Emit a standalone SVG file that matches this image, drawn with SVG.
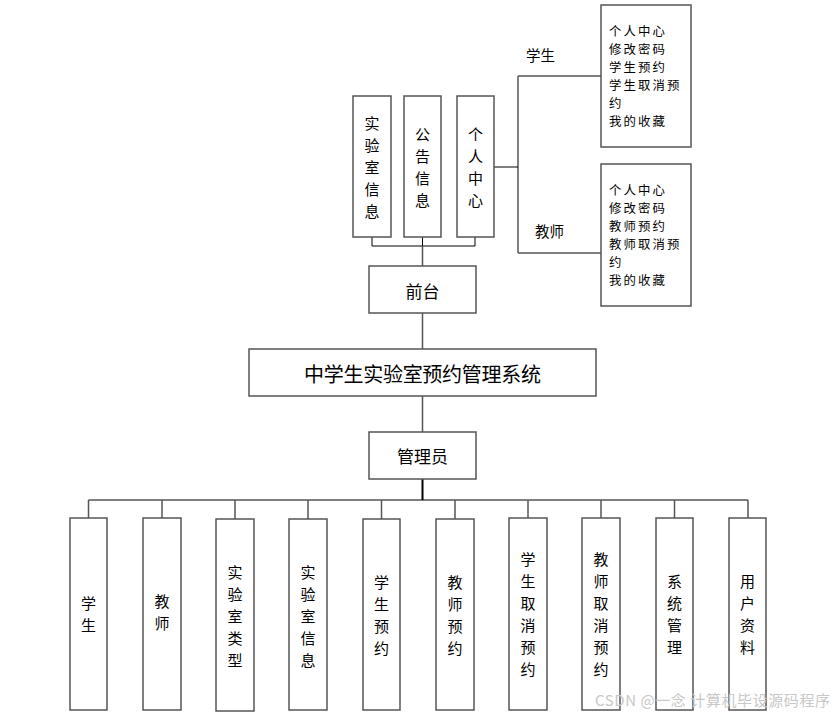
<svg xmlns="http://www.w3.org/2000/svg" width="840" height="716" viewBox="0 0 840 716">
<style>
.box{fill:#fff;stroke:#555;stroke-width:1.5}
.ln{stroke:#000;stroke-width:1;fill:none}
.lg{stroke:#555;stroke-width:1.5;fill:none}
.t{font-family:"Noto Sans CJK SC",sans-serif;font-size:17px;fill:#000;text-anchor:middle;dominant-baseline:central}
.c{font-family:"Noto Sans CJK SC",sans-serif;font-size:15px;fill:#000;text-anchor:middle;dominant-baseline:central}
.s{font-family:"Noto Sans CJK SC",sans-serif;font-size:14.5px;fill:#000}
.m{font-family:"Noto Sans CJK SC",sans-serif;font-size:12.4px;letter-spacing:2.1px;fill:#000}
.wm{font-family:"Noto Sans CJK SC",sans-serif;font-size:15px;fill:#c8c8c8}
</style>
<rect width="840" height="716" fill="#fff"/>
<g id="connectors">
<polyline class="ln" points="372,237 372,246 475,246 475,237"/>
<line class="ln" x1="422.5" y1="237" x2="422.5" y2="246"/>
<line class="lg" x1="422.5" y1="246" x2="422.5" y2="266"/>
<line class="lg" x1="494" y1="167" x2="518" y2="167"/>
<line class="ln" x1="518" y1="76" x2="518" y2="253"/>
<line class="lg" x1="518" y1="76" x2="601" y2="76"/>
<line class="lg" x1="518" y1="253" x2="601" y2="253"/>
<line class="lg" x1="422.5" y1="313" x2="422.5" y2="349"/>
<line class="lg" x1="422.5" y1="396" x2="422.5" y2="432"/>
<line stroke="#000" stroke-width="2" x1="422.5" y1="479" x2="422.5" y2="500"/>
<line class="ln" x1="88.5" y1="500" x2="748" y2="500"/>
<g class="lg">
<line x1="88.5" y1="500" x2="88.5" y2="518"/>
<line x1="162" y1="500" x2="162" y2="518"/>
<line x1="235" y1="500" x2="235" y2="519"/>
<line x1="308" y1="500" x2="308" y2="519"/>
<line x1="381.5" y1="500" x2="381.5" y2="519"/>
<line x1="455" y1="500" x2="455" y2="519"/>
<line x1="528" y1="500" x2="528" y2="518"/>
<line x1="601" y1="500" x2="601" y2="518"/>
<line x1="674.5" y1="500" x2="674.5" y2="518"/>
<line x1="748" y1="500" x2="748" y2="518"/>
</g>
</g>
<g id="lab-info-top"><rect class="box" x="353" y="96" width="38" height="141"/><text class="c"><tspan x="372" y="122">实</tspan><tspan x="372" y="144">验</tspan><tspan x="372" y="166">室</tspan><tspan x="372" y="188">信</tspan><tspan x="372" y="210">息</tspan></text></g>
<g id="notice"><rect class="box" x="404" y="96" width="37" height="141"/><text class="c"><tspan x="422.5" y="133">公</tspan><tspan x="422.5" y="155">告</tspan><tspan x="422.5" y="177">信</tspan><tspan x="422.5" y="199">息</tspan></text></g>
<g id="personal"><rect class="box" x="457" y="96" width="37" height="141"/><text class="c"><tspan x="475.5" y="133">个</tspan><tspan x="475.5" y="155">人</tspan><tspan x="475.5" y="177">中</tspan><tspan x="475.5" y="199">心</tspan></text></g>
<g id="student-label"><text class="s" x="526" y="61">学生</text></g>
<g id="teacher-label"><text class="s" x="535" y="237">教师</text></g>
<g id="student-menu"><rect class="box" x="601" y="5" width="90" height="142"/><text class="m"><tspan x="609" y="36">个人中心</tspan><tspan x="609" y="54">修改密码</tspan><tspan x="609" y="72">学生预约</tspan><tspan x="609" y="90">学生取消预</tspan><tspan x="609" y="108">约</tspan><tspan x="609" y="126">我的收藏</tspan></text></g>
<g id="teacher-menu"><rect class="box" x="601" y="164" width="90" height="142"/><text class="m"><tspan x="609" y="195">个人中心</tspan><tspan x="609" y="213">修改密码</tspan><tspan x="609" y="231">教师预约</tspan><tspan x="609" y="249">教师取消预</tspan><tspan x="609" y="267">约</tspan><tspan x="609" y="285">我的收藏</tspan></text></g>
<g id="frontend"><rect class="box" x="369" y="266" width="107" height="47"/><text class="t" x="422.5" y="290">前台</text></g>
<g id="system"><rect class="box" x="249" y="349" width="347" height="47"/><text class="t" x="422.5" y="373" style="font-size:20px" textLength="237">中学生实验室预约管理系统</text></g>
<g id="admin"><rect class="box" x="369" y="432" width="107" height="47"/><text class="t" x="422.5" y="455">管理员</text></g>
<g id="b-student"><rect class="box" x="70" y="518" width="37" height="192"/><text class="c"><tspan x="88.5" y="602">学</tspan><tspan x="88.5" y="624">生</tspan></text></g>
<g id="b-teacher"><rect class="box" x="143" y="518" width="38" height="192"/><text class="c"><tspan x="162" y="600">教</tspan><tspan x="162" y="622">师</tspan></text></g>
<g id="b-labtype"><rect class="box" x="216" y="519" width="38" height="192"/><text class="c"><tspan x="235" y="571">实</tspan><tspan x="235" y="593">验</tspan><tspan x="235" y="615">室</tspan><tspan x="235" y="637">类</tspan><tspan x="235" y="659">型</tspan></text></g>
<g id="b-labinfo"><rect class="box" x="289" y="519" width="38" height="191"/><text class="c"><tspan x="308" y="571">实</tspan><tspan x="308" y="593">验</tspan><tspan x="308" y="615">室</tspan><tspan x="308" y="637">信</tspan><tspan x="308" y="659">息</tspan></text></g>
<g id="b-stuappt"><rect class="box" x="363" y="519" width="37" height="191"/><text class="c"><tspan x="381.5" y="581">学</tspan><tspan x="381.5" y="603">生</tspan><tspan x="381.5" y="625">预</tspan><tspan x="381.5" y="647">约</tspan></text></g>
<g id="b-teaappt"><rect class="box" x="436" y="519" width="38" height="191"/><text class="c"><tspan x="455" y="581">教</tspan><tspan x="455" y="603">师</tspan><tspan x="455" y="625">预</tspan><tspan x="455" y="647">约</tspan></text></g>
<g id="b-stucancel"><rect class="box" x="509" y="518" width="38" height="192"/><text class="c"><tspan x="528" y="558">学</tspan><tspan x="528" y="580">生</tspan><tspan x="528" y="602">取</tspan><tspan x="528" y="624">消</tspan><tspan x="528" y="646">预</tspan><tspan x="528" y="668">约</tspan></text></g>
<g id="b-teacancel"><rect class="box" x="582" y="518" width="38" height="192"/><text class="c"><tspan x="601" y="558">教</tspan><tspan x="601" y="580">师</tspan><tspan x="601" y="602">取</tspan><tspan x="601" y="624">消</tspan><tspan x="601" y="646">预</tspan><tspan x="601" y="668">约</tspan></text></g>
<g id="b-sysmgmt"><rect class="box" x="656" y="518" width="37" height="192"/><text class="c"><tspan x="674.5" y="580">系</tspan><tspan x="674.5" y="602">统</tspan><tspan x="674.5" y="624">管</tspan><tspan x="674.5" y="646">理</tspan></text></g>
<g id="b-userinfo"><rect class="box" x="729" y="518" width="37" height="192"/><text class="c"><tspan x="747.5" y="580">用</tspan><tspan x="747.5" y="602">户</tspan><tspan x="747.5" y="624">资</tspan><tspan x="747.5" y="646">料</tspan></text></g>
<text class="wm" x="595" y="706" textLength="235">CSDN @一念 计算机毕设源码程序</text>
</svg>
